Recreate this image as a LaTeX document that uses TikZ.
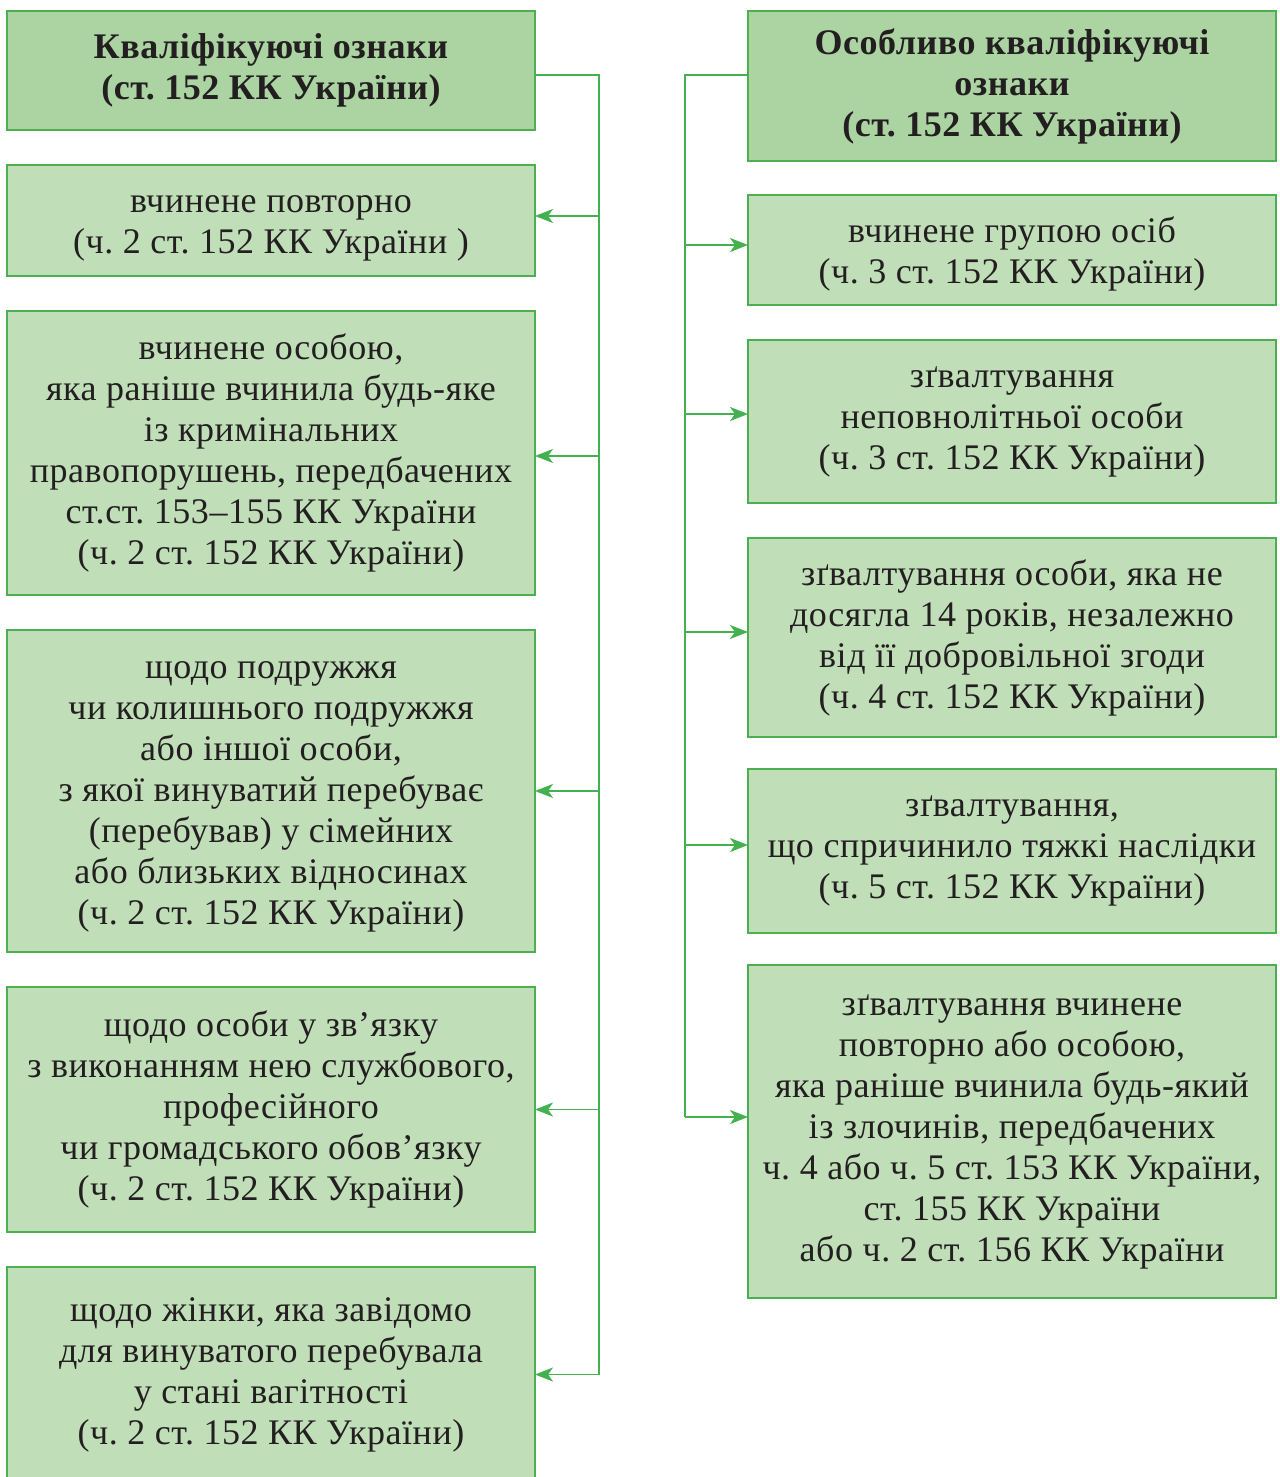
\documentclass[tikz,border=0pt]{standalone}
\usepackage{fontspec}
\setmainfont[LetterSpace=1.5]{Liberation Serif}
\usetikzlibrary{positioning,arrows.meta}
\definecolor{boxfill}{HTML}{C0DEB8}
\definecolor{headfill}{HTML}{ACD4A3}
\definecolor{boxline}{HTML}{4CB050}
\definecolor{linkgreen}{HTML}{45B04F}
\definecolor{inktext}{HTML}{231F20}
\frenchspacing
\newcommand{\topgap}[1]{\rule{0pt}{#1}}

\begin{document}
\begin{tikzpicture}[x=0.5pt,y=-0.5pt,font=\fontsize{18}{20.5}\selectfont,node distance=17.5pt,
  box/.style={draw=boxline,line width=0.8pt,fill=#1,text=inktext,align=center,minimum width=264pt,inner sep=0pt,outer sep=0pt},
  box/.default=boxfill,
  head/.style={box=headfill,font=\fontsize{18}{20.5}\selectfont\bfseries},
  link/.style={draw=linkgreen,line width=0.9pt},
  arr/.style={link,-{Stealth[length=9pt,width=7pt,inset=2.5pt]}}]
\useasboundingbox (0,0) rectangle (1279,1477);
% left column
\node[head,minimum height=59.5pt,anchor=north] (L0) at (271,11) {Кваліфікуючі ознаки\\(ст. 152 КК України)};
\node[box,minimum height=55.5pt,below=of L0] (L1) {\topgap{16pt}вчинене повторно\\(ч. 2 ст. 152 КК України )};
\node[box,minimum height=142pt,below=of L1] (L2) {вчинене особою,\\яка раніше вчинила будь-яке\\із кримінальних\\правопорушень, передбачених\\ст.ст. 153–155 КК України\\(ч. 2 ст. 152 КК України)};
\node[box,minimum height=161pt,below=of L2] (L3) {\topgap{14pt}щодо подружжя\\чи колишнього подружжя\\або іншої особи,\\з якої винуватий перебуває\\(перебував) у сімейних\\або близьких відносинах\\(ч. 2 ст. 152 КК України)};
\node[box,minimum height=122.5pt,below=of L3] (L4) {щодо особи у зв’язку\\з виконанням нею службового,\\професійного\\чи громадського обов’язку\\(ч. 2 ст. 152 КК України)};
\node[box,minimum height=107.5pt,below=of L4] (L5) {щодо жінки, яка завідомо\\для винуватого перебувала\\у стані вагітності\\(ч. 2 ст. 152 КК України)};
% right column
\node[head,minimum height=75pt,anchor=north] (R0) at (1012,11) {Особливо кваліфікуючі\\ознаки\\(ст. 152 КК України)};
\node[box,minimum height=55pt,below=17pt of R0] (R1) {\topgap{17pt}вчинене групою осіб\\(ч. 3 ст. 152 КК України)};
\node[box,minimum height=81.5pt,below=of R1] (R2) {зґвалтування\\неповнолітньої особи\\(ч. 3 ст. 152 КК України)};
\node[box,minimum height=99.5pt,below=of R2] (R3) {зґвалтування особи, яка не\\досягла 14 років, незалежно\\від її добровільної згоди\\(ч. 4 ст. 152 КК України)};
\node[box,minimum height=82pt,below=16pt of R3] (R4) {зґвалтування,\\що спричинило тяжкі наслідки\\(ч. 5 ст. 152 КК України)};
\node[box,minimum height=166.5pt,below=16pt of R4] (R5) {зґвалтування вчинене\\повторно або особою,\\яка раніше вчинила будь-який\\із злочинів, передбачених\\ч. 4 або ч. 5 ст. 153 КК України,\\ст. 155 КК України\\або ч. 2 ст. 156 КК України};
% connectors
\coordinate (lbus) at (599,75);
\coordinate (rbus) at (685,75);
\foreach \n/\s in {L1/2.25,L2/-1.5,L3/0,L4/0,L5/0} {
  \path ([yshift=\s pt]\n.east) coordinate (\n-in);
  \draw[arr] (\n-in -| lbus) -- (\n-in);
}
\foreach \n/\s in {R1/2.5,R2/3.75,R3/2.75,R4/3,R5/7.25} {
  \path ([yshift=\s pt]\n.west) coordinate (\n-in);
  \draw[arr] (\n-in -| rbus) -- (\n-in);
}
\draw[link] (L0.east |- lbus) -- (lbus) -- (lbus |- L5-in);
\draw[link] (R0.west |- rbus) -- (rbus) -- (rbus |- R5-in);
\end{tikzpicture}
\end{document}
